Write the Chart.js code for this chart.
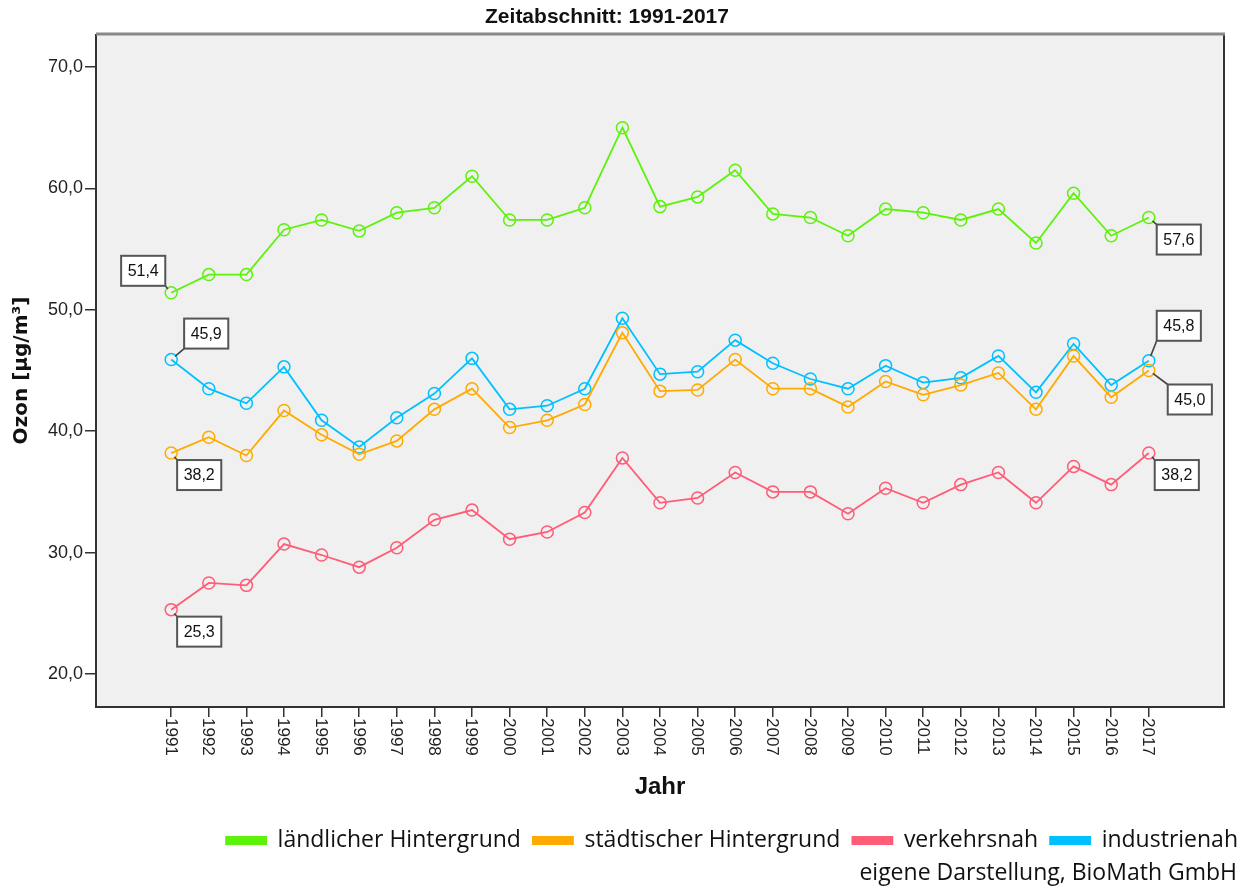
<!DOCTYPE html>
<html><head><meta charset="utf-8">
<script src="https://cdn.jsdelivr.net/npm/chart.js@4.4.0/dist/chart.umd.min.js"></script>
<style>html,body{margin:0;padding:0;background:#fff}#wrap{width:1252px;height:891px;position:relative}</style>
</head><body><div id="wrap"><canvas id="c"></canvas></div>
<script>
const years = [1991,1992,1993,1994,1995,1996,1997,1998,1999,2000,2001,2002,2003,2004,2005,2006,2007,2008,2009,2010,2011,2012,2013,2014,2015,2016,2017];
const laendlich   = [51.4,52.9,52.9,56.6,57.4,56.5,58.0,58.4,61.0,57.4,57.4,58.4,65.0,58.5,59.3,61.5,57.9,57.6,56.1,58.3,58.0,57.4,58.3,55.5,59.6,56.1,57.6];
const staedtisch  = [38.2,39.5,38.0,41.7,39.7,38.1,39.2,41.8,43.5,40.3,40.9,42.2,48.1,43.3,43.4,45.9,43.5,43.5,42.0,44.1,43.0,43.8,44.8,41.8,46.2,42.8,45.0];
const verkehrsnah = [25.3,27.5,27.3,30.7,29.8,28.8,30.4,32.7,33.5,31.1,31.7,33.3,37.8,34.1,34.5,36.6,35.0,35.0,33.2,35.3,34.1,35.6,36.6,34.1,37.1,35.6,38.2];
const industrienah= [45.9,43.5,42.3,45.3,40.9,38.7,41.1,43.1,46.0,41.8,42.1,43.5,49.3,44.7,44.9,47.5,45.6,44.3,43.5,45.4,44.0,44.4,46.2,43.2,47.2,43.8,45.8];
const yTicks = [20,30,40,50,60,70];
const seriesNames = ['ländlicher Hintergrund','städtischer Hintergrund','verkehrsnah','industrienah'];
const seriesValues = [laendlich, staedtisch, verkehrsnah, industrienah];
const seriesColors = ['#5cf20a','#ffaa00','#ff5c77','#00c0ff'];
const chartTitle = 'Zeitabschnitt: 1991-2017';
const creditText = 'eigene Darstellung, BioMath GmbH';
const fmt = v => v.toFixed(1).replace('.', ',');

// value labels: [datasetIndex, pointIndex, dx, dy]
const valueLabels = [
  [0, 0, -28, -22], [3, 0, 35, -26], [1, 0, 28, 22], [2, 0, 28, 22],
  [0, 26, 30, 22], [3, 26, 30, -35], [1, 26, 41, 29], [2, 26, 28, 22]
];

const datasets = seriesValues.map((vals, i) => ({
  label: seriesNames[i],
  data: vals.map((v, j) => ({x: years[j], y: v})),
  borderColor: seriesColors[i],
  backgroundColor: seriesColors[i],
  borderWidth: 1.8,
  pointRadius: 6,
  pointHoverRadius: 6,
  pointBorderWidth: 1.5,
  pointBackgroundColor: 'rgba(0,0,0,0)',
  pointBorderColor: seriesColors[i],
  tension: 0
}));

const deco = {
  id: 'deco',
  beforeDraw(chart) {
    const {ctx, chartArea: a} = chart;
    ctx.save();
    ctx.fillStyle = '#f0f0f0';
    ctx.fillRect(a.left, a.top, a.right - a.left, a.bottom - a.top);
    ctx.restore();
  },
  afterDatasetsDraw(chart) {
    const {ctx, chartArea: a} = chart;
    ctx.save();
    ctx.strokeStyle = '#333';
    ctx.lineWidth = 2;
    ctx.beginPath();
    ctx.moveTo(a.left, a.top); ctx.lineTo(a.left, a.bottom); ctx.lineTo(a.right, a.bottom); ctx.lineTo(a.right, a.top);
    ctx.stroke();
    ctx.strokeStyle = '#888';
    ctx.lineWidth = 3;
    ctx.beginPath(); ctx.moveTo(a.left, a.top); ctx.lineTo(a.right + 1, a.top); ctx.stroke();
    ctx.font = '16px "Liberation Sans", Arial, sans-serif';
    valueLabels.forEach(([di, pi, dx, dy]) => {
      const el = chart.getDatasetMeta(di).data[pi];
      const px = el.x, py = el.y;
      const txt = fmt(seriesValues[di][pi]);
      const w = ctx.measureText(txt).width + 13, h = 30;
      const cx = px + dx, cy = py + dy;
      const l = cx - w / 2, t = cy - h / 2;
      const corx = dx < 0 ? l + w : l, cory = dy < 0 ? t + h : t;
      const ang = Math.atan2(cory - py, corx - px);
      ctx.strokeStyle = '#444'; ctx.lineWidth = 1.6;
      ctx.beginPath(); ctx.moveTo(px + Math.cos(ang) * 5, py + Math.sin(ang) * 5); ctx.lineTo(corx, cory); ctx.stroke();
      ctx.fillStyle = '#fff';
      ctx.fillRect(l, t, w, h);
      ctx.strokeStyle = '#555'; ctx.lineWidth = 2;
      ctx.strokeRect(l, t, w, h);
      ctx.fillStyle = '#111';
      ctx.textAlign = 'center'; ctx.textBaseline = 'middle';
      ctx.fillText(txt, cx, cy + 1);
    });
    ctx.restore();
  },
  afterDraw(chart) {
    const {ctx} = chart;
    const xs = chart.scales.x;
    ctx.save();
    ctx.fillStyle = '#111';
    ctx.font = 'bold 21px "Liberation Sans", Arial, sans-serif';
    ctx.textAlign = 'center'; ctx.textBaseline = 'middle';
    ctx.fillText(chartTitle, 607, 17);
    ctx.font = '23px "Open Sans", sans-serif';
    ctx.textAlign = 'right';
    ctx.fillText(creditText, 1237, 873);
    ctx.font = '17px "Liberation Sans", Arial, sans-serif';
    ctx.fillStyle = '#222';
    years.forEach(yr => {
      const x = xs.getPixelForValue(yr);
      ctx.save();
      ctx.translate(x - 1, chart.chartArea.bottom + 11);
      ctx.rotate(Math.PI / 2);
      ctx.textAlign = 'left'; ctx.textBaseline = 'middle';
      ctx.fillText(String(yr), 0, 0);
      ctx.restore();
    });
    ctx.restore();
  }
};

new Chart(document.getElementById('c'), {
  type: 'line',
  data: { datasets },
  plugins: [deco],
  options: {
    responsive: true,
    maintainAspectRatio: false,
    animation: false,
    events: [],
    layout: { padding: { top: 34, left: 0, right: 2, bottom: 29 } },
    plugins: {
      title: { display: false },
      tooltip: { enabled: false },
      legend: {
        display: true, position: 'bottom', align: 'end',
        labels: {
          boxWidth: 40, boxHeight: 7, padding: 12,
          color: '#111',
          font: { family: '"Open Sans", sans-serif', size: 23 }
        }
      }
    },
    scales: {
      x: {
        type: 'linear', min: 1989, max: 2019,
        afterBuildTicks: s => { s.ticks = years.map(v => ({value: v})); },
        afterFit: s => { s.height = 110; },
        grid: { drawOnChartArea: false, drawTicks: true, tickLength: 10, color: '#333', lineWidth: 1.5 },
        border: { display: false },
        ticks: { display: false },
        title: { display: true, text: 'Jahr', color: '#111', font: { family: '"Liberation Sans", Arial, sans-serif', size: 24, weight: 'bold' }, padding: { top: 0, bottom: 15 } }
      },
      y: {
        type: 'linear', min: 17.28, max: 72.72,
        afterBuildTicks: s => { s.ticks = yTicks.map(v => ({value: v})); },
        afterFit: s => { s.width = 96; },
        grid: { drawOnChartArea: false, drawTicks: true, tickLength: 11, color: '#333', lineWidth: 1.5 },
        border: { display: false },
        ticks: { padding: 2, color: '#222', font: { family: '"Liberation Sans", Arial, sans-serif', size: 18 }, callback: v => fmt(v) },
        title: { display: true, text: 'Ozon [µg/m³]', color: '#111', font: { family: '"DejaVu Sans", sans-serif', size: 20, weight: 'bold' }, padding: { top: 10, bottom: 0 } }
      },
      yR: {
        type: 'linear', position: 'right', display: true,
        afterFit: s => { s.width = 26; },
        grid: { display: false }, border: { display: false }, ticks: { display: false }
      }
    }
  }
});
</script></body></html>
